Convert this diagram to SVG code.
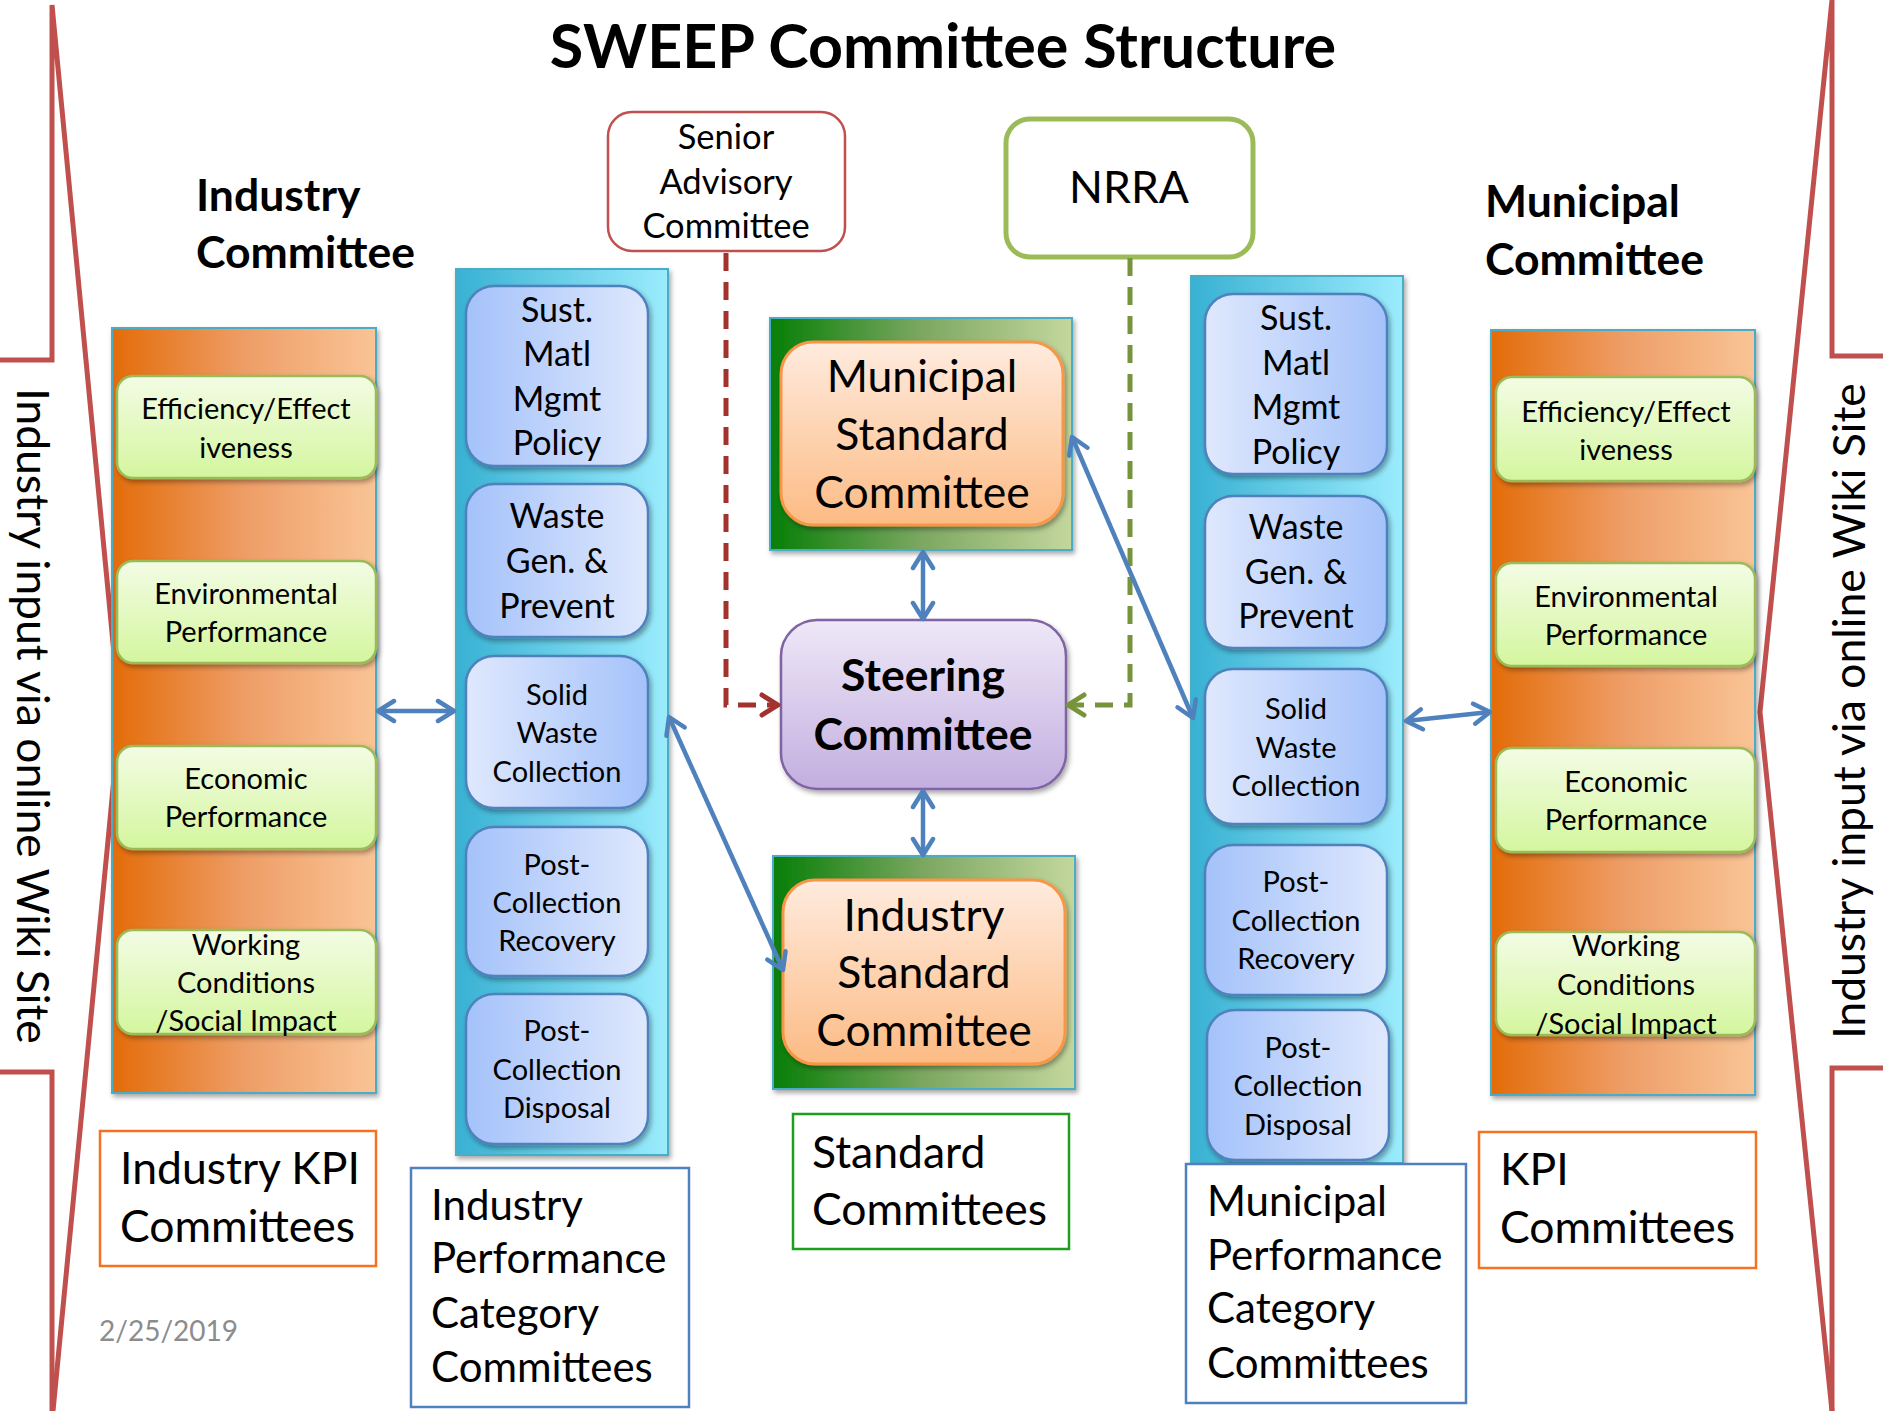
<svg xmlns="http://www.w3.org/2000/svg" width="1883" height="1411" viewBox="0 0 1883 1411">
<style>
text{font-family:Lato,'Liberation Sans',sans-serif;fill:#000}
.b{font-weight:bold}
.m{text-anchor:middle}
.br{fill:none;stroke:#C0504D;stroke-width:5;stroke-linejoin:miter}
.panelO{fill:url(#gOP);stroke:#4BACC6;stroke-width:2}
.panelB{fill:url(#gBP);stroke:#4BACC6;stroke-width:2}
.gbox{fill:url(#gGB);stroke:#9BBB59;stroke-width:2.5}
.bL{fill:url(#gBL);stroke:#4F81BD;stroke-width:2.5}
.bR{fill:url(#gBR);stroke:#4F81BD;stroke-width:2.5}
.gsq{fill:url(#gGS);stroke:#4BACC6;stroke-width:2}
.obox{fill:url(#gOB);stroke:#F79646;stroke-width:3}
.lab{fill:#fff;stroke-width:2.5}
.s31{font-size:29px}
.s36{font-size:34px}
.s47{font-size:44.5px}
.s45{font-size:42px}
.conB{fill:none;stroke:#4F81BD;stroke-width:4.5}
</style>
<defs>
<linearGradient id="gOP" x1="0" y1="0" x2="1" y2="0"><stop offset="0" stop-color="#E36C09"/><stop offset="0.5" stop-color="#EE9D66"/><stop offset="1" stop-color="#F9C496"/></linearGradient>
<linearGradient id="gBP" x1="0" y1="0" x2="1" y2="0"><stop offset="0" stop-color="#38B1D3"/><stop offset="1" stop-color="#9BECFD"/></linearGradient>
<linearGradient id="gGB" x1="0" y1="0" x2="0" y2="1"><stop offset="0" stop-color="#F3FCE5"/><stop offset="1" stop-color="#D4F69E"/></linearGradient>
<linearGradient id="gBL" x1="0" y1="0" x2="1" y2="0"><stop offset="0" stop-color="#A4C2FA"/><stop offset="1" stop-color="#DFE8FD"/></linearGradient>
<linearGradient id="gBR" x1="0" y1="0" x2="1" y2="0"><stop offset="0" stop-color="#DFE8FD"/><stop offset="1" stop-color="#A4C2FA"/></linearGradient>
<linearGradient id="gGS" x1="0" y1="0" x2="1" y2="0"><stop offset="0" stop-color="#067E06"/><stop offset="0.5" stop-color="#7CA761"/><stop offset="1" stop-color="#C4D79D"/></linearGradient>
<linearGradient id="gOB" x1="0" y1="0" x2="0" y2="1"><stop offset="0" stop-color="#FFEBDE"/><stop offset="1" stop-color="#FCBB84"/></linearGradient>
<linearGradient id="gP" x1="0" y1="0" x2="0" y2="1"><stop offset="0" stop-color="#EEE8F7"/><stop offset="1" stop-color="#C3AEE0"/></linearGradient>
<filter id="sh" x="-10%" y="-10%" width="130%" height="130%"><feDropShadow dx="2" dy="3" stdDeviation="2.5" flood-color="#000" flood-opacity="0.35"/></filter>
<marker id="aB" viewBox="0 0 26 26" refX="21" refY="13" markerWidth="26" markerHeight="26" markerUnits="userSpaceOnUse" orient="auto-start-reverse"><path d="M5,3 L21,13 L5,23" fill="none" stroke="#4F81BD" stroke-width="4.5" stroke-linecap="round" stroke-linejoin="round"/></marker>
<marker id="aR" viewBox="0 0 26 26" refX="21" refY="13" markerWidth="26" markerHeight="26" markerUnits="userSpaceOnUse" orient="auto"><path d="M5,3 L21,13 L5,23" fill="none" stroke="#A3322F" stroke-width="5" stroke-linecap="round" stroke-linejoin="round"/></marker>
<marker id="aG" viewBox="0 0 26 26" refX="21" refY="13" markerWidth="26" markerHeight="26" markerUnits="userSpaceOnUse" orient="auto"><path d="M5,3 L21,13 L5,23" fill="none" stroke="#77933C" stroke-width="5" stroke-linecap="round" stroke-linejoin="round"/></marker>
</defs>
<rect width="1883" height="1411" fill="#fff"/>

<g id="bracket-left">
<polyline class="br" points="0,360 52,360 52,5 120,716 53,1411"/>
<polyline class="br" points="0,1072 52,1072 52,1411"/>
<text transform="translate(17,716) rotate(90)" class="m" font-size="44.5">Industry input via online Wiki Site</text>
</g>
<g id="bracket-right">
<polyline class="br" points="1883,356 1832,356 1832,0 1760,712 1832,1411"/>
<polyline class="br" points="1883,1068 1832,1068 1832,1411"/>
<text transform="translate(1865,711) rotate(-90)" class="m" font-size="44.5">Industry input via online Wiki Site</text>
</g>

<g id="title"><text x="943" y="68" class="b m" font-size="61">SWEEP Committee Structure</text></g>
<g id="industry-heading"><text x="196" y="211" class="b s47">Industry</text><text x="196" y="268" class="b s47">Committee</text></g>
<g id="municipal-heading"><text x="1485" y="217" class="b s47">Municipal</text><text x="1485" y="275" class="b s47">Committee</text></g>

<g id="industry-kpi-panel">
<rect class="panelO" x="112" y="328" width="264" height="765" filter="url(#sh)"/>
<g id="ik-eff"><rect class="gbox" x="117" y="376" width="259" height="102" rx="16" filter="url(#sh)"/><text class="m s31" x="246" y="419">Efficiency/Effect</text><text class="m s31" x="246" y="458">iveness</text></g>
<g id="ik-env"><rect class="gbox" x="117" y="561" width="259" height="102" rx="16" filter="url(#sh)"/><text class="m s31" x="246" y="604">Environmental</text><text class="m s31" x="246" y="642">Performance</text></g>
<g id="ik-eco"><rect class="gbox" x="117" y="746" width="259" height="103" rx="16" filter="url(#sh)"/><text class="m s31" x="246" y="789">Economic</text><text class="m s31" x="246" y="827">Performance</text></g>
<g id="ik-work"><rect class="gbox" x="117" y="930" width="259" height="104" rx="16" filter="url(#sh)"/><text class="m s31" x="246" y="955">Working</text><text class="m s31" x="246" y="993">Conditions</text><text class="m s31" x="246" y="1031">/Social Impact</text></g>
</g>

<g id="industry-perf-panel">
<rect class="panelB" x="456" y="269" width="212" height="886" filter="url(#sh)"/>
<g id="ip-sust"><rect class="bL" x="466" y="286" width="182" height="180" rx="28" filter="url(#sh)"/><text class="m s36" x="557" y="322">Sust.</text><text class="m s36" x="557" y="366">Matl</text><text class="m s36" x="557" y="411">Mgmt</text><text class="m s36" x="557" y="455">Policy</text></g>
<g id="ip-waste"><rect class="bL" x="466" y="484" width="182" height="153" rx="28" filter="url(#sh)"/><text class="m s36" x="557" y="528">Waste</text><text class="m s36" x="557" y="573">Gen. &amp;</text><text class="m s36" x="557" y="618">Prevent</text></g>
<g id="ip-solid"><rect class="bR" x="466" y="656" width="182" height="152" rx="28" filter="url(#sh)"/><text class="m s31" x="557" y="705">Solid</text><text class="m s31" x="557" y="743">Waste</text><text class="m s31" x="557" y="782">Collection</text></g>
<g id="ip-recov"><rect class="bL" x="466" y="827" width="182" height="149" rx="28" filter="url(#sh)"/><text class="m s31" x="557" y="875">Post-</text><text class="m s31" x="557" y="913">Collection</text><text class="m s31" x="557" y="951">Recovery</text></g>
<g id="ip-disp"><rect class="bL" x="466" y="994" width="182" height="150" rx="28" filter="url(#sh)"/><text class="m s31" x="557" y="1041">Post-</text><text class="m s31" x="557" y="1080">Collection</text><text class="m s31" x="557" y="1118">Disposal</text></g>
</g>

<g id="senior-advisory"><rect class="lab" x="608" y="112" width="237" height="139" rx="24" stroke="#C0504D" stroke-width="5" fill="#fff"/><text class="m" font-size="34.5" x="726" y="149">Senior</text><text class="m" font-size="34.5" x="726" y="194">Advisory</text><text class="m" font-size="34.5" x="726" y="238">Committee</text></g>
<g id="nrra"><rect x="1006" y="119" width="247" height="138" rx="24" fill="#fff" stroke="#9BBB59" stroke-width="5"/><text class="m s47" x="1129" y="203">NRRA</text></g>

<g id="municipal-standard"><rect class="gsq" x="770" y="318" width="302" height="232" filter="url(#sh)"/><rect class="obox" x="781" y="342" width="282" height="183" rx="32" filter="url(#sh)"/><text class="m s47" x="922" y="392">Municipal</text><text class="m s47" x="922" y="450">Standard</text><text class="m s47" x="922" y="508">Committee</text></g>
<g id="steering"><rect x="781" y="620" width="285" height="169" rx="36" fill="url(#gP)" stroke="#8064A2" stroke-width="2.5" filter="url(#sh)"/><text class="b m s47" x="923" y="691">Steering</text><text class="b m s47" x="923" y="750">Committee</text></g>
<g id="industry-standard"><rect class="gsq" x="773" y="856" width="302" height="233" filter="url(#sh)"/><rect class="obox" x="783" y="880" width="282" height="184" rx="32" filter="url(#sh)"/><text class="m s47" x="924" y="931">Industry</text><text class="m s47" x="924" y="988">Standard</text><text class="m s47" x="924" y="1046">Committee</text></g>

<g id="municipal-perf-panel">
<rect class="panelB" x="1191" y="276" width="212" height="887" filter="url(#sh)"/>
<g id="mp-sust"><rect class="bR" x="1205" y="294" width="182" height="180" rx="28" filter="url(#sh)"/><text class="m s36" x="1296" y="330">Sust.</text><text class="m s36" x="1296" y="375">Matl</text><text class="m s36" x="1296" y="419">Mgmt</text><text class="m s36" x="1296" y="464">Policy</text></g>
<g id="mp-waste"><rect class="bR" x="1205" y="496" width="182" height="152" rx="28" filter="url(#sh)"/><text class="m s36" x="1296" y="539">Waste</text><text class="m s36" x="1296" y="584">Gen. &amp;</text><text class="m s36" x="1296" y="628">Prevent</text></g>
<g id="mp-solid"><rect class="bR" x="1205" y="669" width="182" height="155" rx="28" filter="url(#sh)"/><text class="m s31" x="1296" y="719">Solid</text><text class="m s31" x="1296" y="758">Waste</text><text class="m s31" x="1296" y="796">Collection</text></g>
<g id="mp-recov"><rect class="bL" x="1205" y="845" width="182" height="150" rx="28" filter="url(#sh)"/><text class="m s31" x="1296" y="892">Post-</text><text class="m s31" x="1296" y="931">Collection</text><text class="m s31" x="1296" y="969">Recovery</text></g>
<g id="mp-disp"><rect class="bL" x="1207" y="1010" width="182" height="150" rx="28" filter="url(#sh)"/><text class="m s31" x="1298" y="1058">Post-</text><text class="m s31" x="1298" y="1096">Collection</text><text class="m s31" x="1298" y="1135">Disposal</text></g>
</g>

<g id="municipal-kpi-panel">
<rect class="panelO" x="1491" y="330" width="264" height="765" filter="url(#sh)"/>
<g id="mk-eff"><rect class="gbox" x="1496" y="377" width="259" height="104" rx="16" filter="url(#sh)"/><text class="m s31" x="1626" y="422">Efficiency/Effect</text><text class="m s31" x="1626" y="460">iveness</text></g>
<g id="mk-env"><rect class="gbox" x="1496" y="563" width="259" height="103" rx="16" filter="url(#sh)"/><text class="m s31" x="1626" y="607">Environmental</text><text class="m s31" x="1626" y="645">Performance</text></g>
<g id="mk-eco"><rect class="gbox" x="1496" y="748" width="259" height="104" rx="16" filter="url(#sh)"/><text class="m s31" x="1626" y="792">Economic</text><text class="m s31" x="1626" y="830">Performance</text></g>
<g id="mk-work"><rect class="gbox" x="1496" y="932" width="259" height="103" rx="16" filter="url(#sh)"/><text class="m s31" x="1626" y="956">Working</text><text class="m s31" x="1626" y="995">Conditions</text><text class="m s31" x="1626" y="1034">/Social Impact</text></g>
</g>

<g id="label-industry-kpi"><rect x="100" y="1131" width="276" height="135" fill="#fff" stroke="#F47320" stroke-width="2.5"/><text class="s47" x="120" y="1184">Industry KPI</text><text class="s47" x="120" y="1242">Committees</text></g>
<g id="label-industry-perf"><rect x="411" y="1168" width="278" height="239" fill="#fff" stroke="#4F81BD" stroke-width="2.5"/><text class="s45" x="431" y="1220">Industry</text><text class="s45" x="431" y="1273">Performance</text><text class="s45" x="431" y="1328">Category</text><text class="s45" x="431" y="1382">Committees</text></g>
<g id="label-standard"><rect x="793" y="1114" width="276" height="135" fill="#fff" stroke="#1E9E1E" stroke-width="2.5"/><text class="s47" x="812" y="1168">Standard</text><text class="s47" x="812" y="1225">Committees</text></g>
<g id="label-municipal-perf"><rect x="1186" y="1164" width="280" height="239" fill="#fff" stroke="#4F81BD" stroke-width="2.5"/><text class="s45" x="1207" y="1216">Municipal</text><text class="s45" x="1207" y="1270">Performance</text><text class="s45" x="1207" y="1323">Category</text><text class="s45" x="1207" y="1378">Committees</text></g>
<g id="label-kpi"><rect x="1479" y="1132" width="277" height="136" fill="#fff" stroke="#F47320" stroke-width="2.5"/><text class="s47" x="1500" y="1185">KPI</text><text class="s47" x="1500" y="1243">Committees</text></g>
<g id="date"><text x="99" y="1341" font-size="28" style="fill:#8C8C8C">2/25/2019</text></g>

<g id="connectors">
<path d="M726,253 V705 H778" fill="none" stroke="#A3322F" stroke-width="5" stroke-dasharray="18 11" marker-end="url(#aR)"/>
<path d="M1130,258 V705 H1068" fill="none" stroke="#77933C" stroke-width="5" stroke-dasharray="18 11" marker-end="url(#aG)"/>
<line class="conB" x1="923" y1="552" x2="923" y2="619" marker-start="url(#aB)" marker-end="url(#aB)"/>
<line class="conB" x1="923" y1="791" x2="923" y2="855" marker-start="url(#aB)" marker-end="url(#aB)"/>
<line class="conB" x1="378" y1="711" x2="454" y2="711" marker-start="url(#aB)" marker-end="url(#aB)"/>
<line class="conB" x1="1406" y1="721" x2="1490" y2="712" marker-start="url(#aB)" marker-end="url(#aB)"/>
<line class="conB" x1="669" y1="717" x2="783" y2="970" marker-start="url(#aB)" marker-end="url(#aB)"/>
<line class="conB" x1="1072" y1="437" x2="1193" y2="718" marker-start="url(#aB)" marker-end="url(#aB)"/>
</g>
</svg>
